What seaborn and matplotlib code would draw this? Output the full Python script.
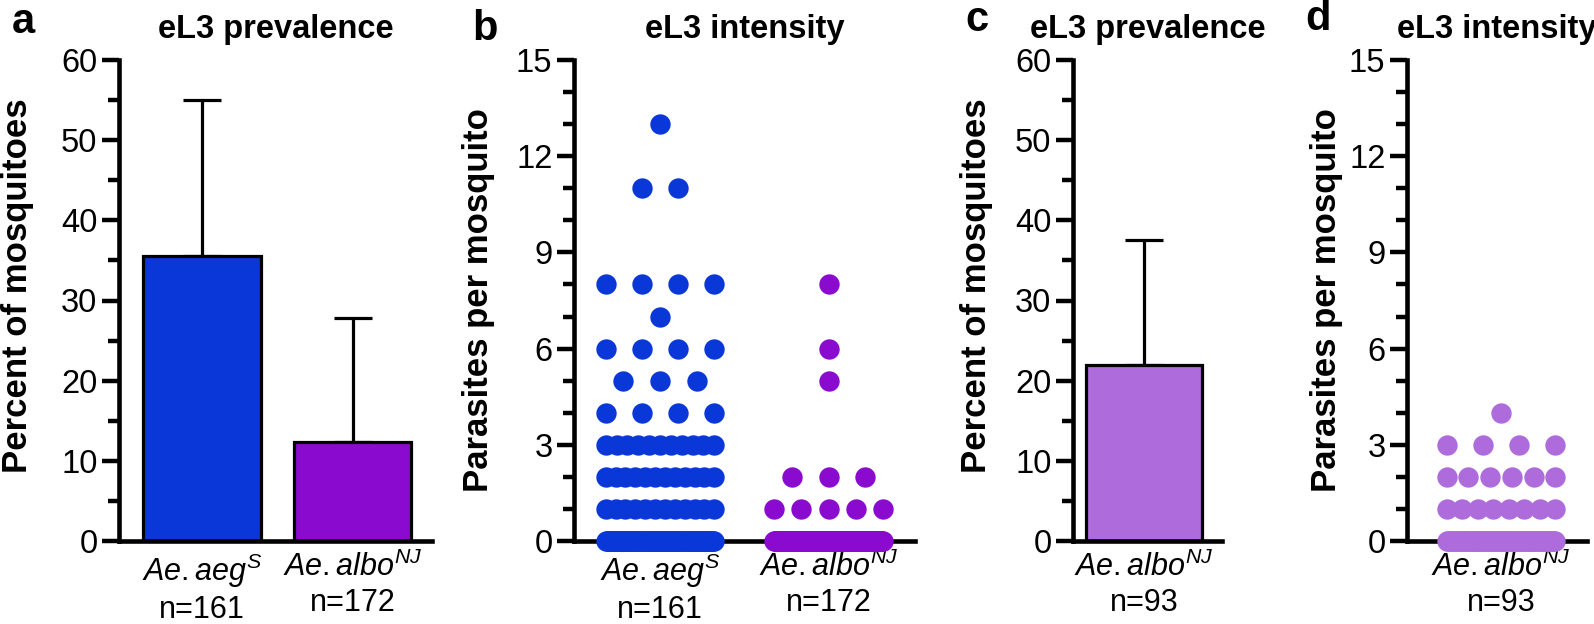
import numpy as np
import matplotlib
matplotlib.use("Agg")
import matplotlib.pyplot as plt
from matplotlib.ticker import MultipleLocator
import seaborn as sns

# values
prev_groups = ["aeg", "albo"]
prev_mean = [35.6, 12.3]
prev_err = [19.4, 15.5]          # upper SD only
prev_labels = [r"$\mathit{Ae.aeg}^{\mathit{S}}$" + "\nn=161",
               r"$\mathit{Ae.albo}^{\mathit{NJ}}$" + "\nn=172"]

# parasites per mosquito: level -> how many mosquitoes
aeg_levels = [0, 1, 2, 3, 4, 5, 6, 7, 8, 11, 13]
aeg_counts = [107, 12, 12, 11, 4, 3, 4, 1, 4, 2, 1]
albo_levels = [0, 1, 2, 5, 6, 8]
albo_counts = [161, 5, 3, 1, 1, 1]

# field Ae. albopictus NJ (panels c, d)
nj_groups = ["albo"]
nj_mean = [21.9]
nj_err = [15.6]
nj_labels = [r"$\mathit{Ae.albo}^{\mathit{NJ}}$" + "\nn=93"]
nj_levels = [0, 1, 2, 3, 4]
nj_counts = [74, 8, 6, 4, 1]

blue = "#0a38d8"
purple = "#8a0acf"
lilac = "#ad6bdb"

sns.set_theme(style="ticks")
plt.rcParams["font.family"] = ["Liberation Sans", "DejaVu Sans"]
plt.rcParams["mathtext.fontset"] = "custom"
plt.rcParams["mathtext.rm"] = "Liberation Sans"
plt.rcParams["mathtext.it"] = "Liberation Sans:italic"
for key in ["text.color", "axes.labelcolor", "axes.edgecolor", "xtick.color", "ytick.color"]:
    plt.rcParams[key] = "black"


def dot_columns(levels, counts, center, step=0.217, maxspan=0.644):
    # GraphPad-like scatter: equal spacing in a row, width capped
    xs, ys = [], []
    for lv, k in zip(levels, counts):
        span = min((k - 1) * step, maxspan)
        xs.extend(center + np.linspace(-span / 2, span / 2, k))
        ys.extend([lv] * k)
    return np.array(xs), np.array(ys)


def style(ax, ymax, major, minor):
    ax.set_ylim(0, ymax)
    ax.yaxis.set_major_locator(MultipleLocator(major))
    ax.yaxis.set_minor_locator(MultipleLocator(minor))
    ax.tick_params(axis="y", which="major", length=12, width=3.2, labelsize=23.5, pad=3.5)
    ax.tick_params(axis="y", which="minor", length=8, width=3.2)
    ax.tick_params(axis="x", length=0, labelsize=22, pad=8)
    sns.despine(ax=ax)
    for s in ["left", "bottom"]:
        ax.spines[s].set_linewidth(3.3)
        ax.spines[s].set_capstyle("projecting")


W, H = 1594, 624
fig = plt.figure(figsize=(W / 100, H / 100), dpi=100)
bot = (H - 541) / H
hgt = 481 / H


def make_ax(x0, x1):
    return fig.add_axes([x0 / W, bot, (x1 - x0) / W, hgt])


# a: prevalence bars
ax = make_ax(119, 432)
sns.barplot(x=prev_groups, y=prev_mean, hue=prev_groups, palette=[blue, purple],
            width=0.78, edgecolor="black", linewidth=2.3, saturation=1,
            legend=False, ax=ax, zorder=2)
ax.errorbar([0, 1], prev_mean, yerr=[[0, 0], prev_err], fmt="none", ecolor="black",
            elinewidth=2.3, capsize=13.5, capthick=2.3, zorder=1)
ax.set_xlim(-0.551, 1.528)
style(ax, 60, 10, 5)
ax.set_xticks([0, 1])
ax.set_xticklabels(prev_labels)
ax.set_title("eL3 prevalence", fontsize=23.5, fontweight="bold", pad=16)
ax.set_ylabel("Percent of mosquitoes", fontsize=25, fontweight="bold")
ax.yaxis.set_label_coords(-0.27, 0.53)

# b: intensity dots
ax = make_ax(574, 915)
x1, y1 = dot_columns(aeg_levels, aeg_counts, 0)
x2, y2 = dot_columns(albo_levels, albo_counts, 1)
sns.scatterplot(x=x1, y=y1, color=blue, s=215, linewidth=0, ax=ax, clip_on=False, zorder=3)
sns.scatterplot(x=x2, y=y2, color=purple, s=215, linewidth=0, ax=ax, clip_on=False, zorder=3)
ax.set_xlim(-0.510, 1.513)
style(ax, 15, 3, 1)
ax.set_xticks([0, 1])
ax.set_xticklabels(prev_labels)
ax.set_title("eL3 intensity", fontsize=23.5, fontweight="bold", pad=16)
ax.set_ylabel("Parasites per mosquito", fontsize=25, fontweight="bold")
ax.yaxis.set_label_coords(-0.232, 0.5)

# c: NJ prevalence
ax = make_ax(1073, 1222)
sns.barplot(x=nj_groups, y=nj_mean, color=lilac, width=0.78, edgecolor="black",
            linewidth=2.3, saturation=1, ax=ax, zorder=2)
ax.errorbar([0], nj_mean, yerr=[[0], nj_err], fmt="none", ecolor="black",
            elinewidth=2.3, capsize=13.5, capthick=2.3, zorder=1)
ax.set_xlim(-0.477, 0.525)
style(ax, 60, 10, 5)
ax.set_xticks([0])
ax.set_xticklabels(nj_labels)
ax.set_title("eL3 prevalence", fontsize=23.5, fontweight="bold", pad=16)
ax.set_ylabel("Percent of mosquitoes", fontsize=25, fontweight="bold")
ax.yaxis.set_label_coords(-0.54, 0.53)

# d: NJ intensity
ax = make_ax(1407, 1587)
x3, y3 = dot_columns(nj_levels, nj_counts, 0)
sns.scatterplot(x=x3, y=y3, color=lilac, s=215, linewidth=0, ax=ax, clip_on=False, zorder=3)
ax.set_xlim(-0.558, 0.510)
style(ax, 15, 3, 1)
ax.set_xticks([0])
ax.set_xticklabels(nj_labels)
ax.set_title("eL3 intensity", fontsize=23.5, fontweight="bold", pad=16)
ax.set_ylabel("Parasites per mosquito", fontsize=25, fontweight="bold")
ax.yaxis.set_label_coords(-0.355, 0.5)

# panel letters
for letter, px, base in [("a", 12, 33), ("b", 472, 40), ("c", 965, 31), ("d", 1305, 30)]:
    fig.text(px / W, 1 - base / H, letter, fontsize=30, fontweight="bold", va="baseline")

fig.savefig("out.png", dpi=100)
